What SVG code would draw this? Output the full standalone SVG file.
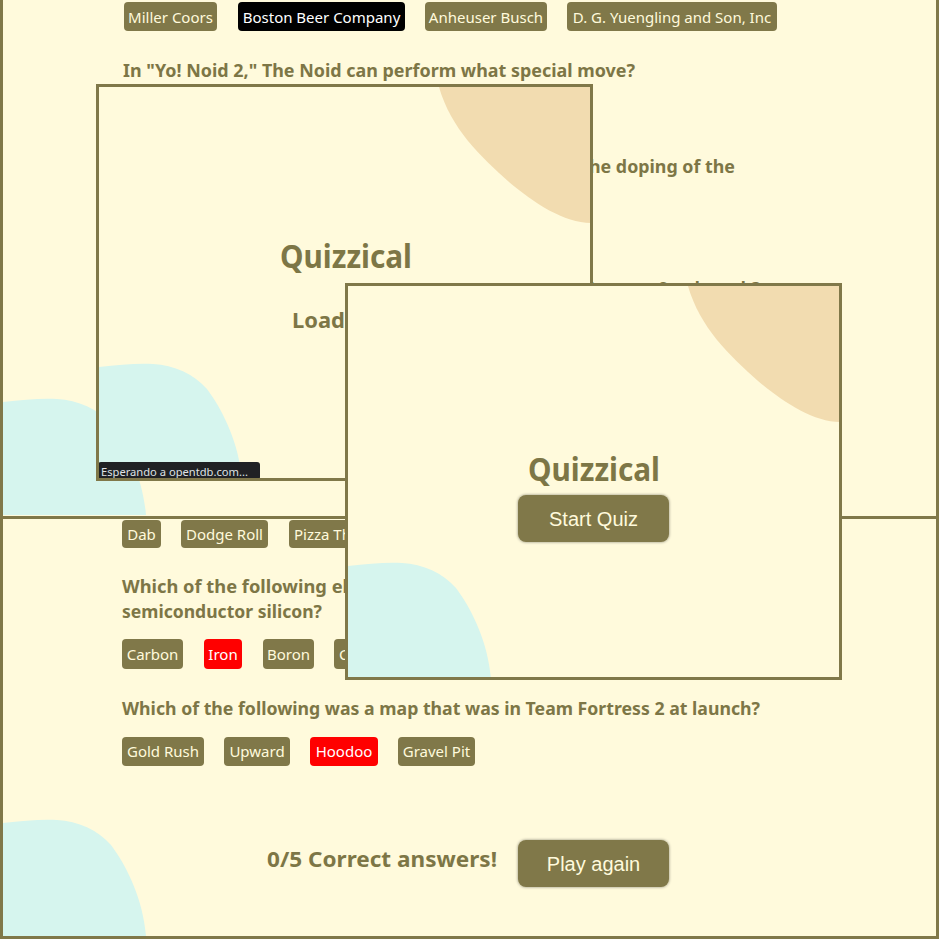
<svg xmlns="http://www.w3.org/2000/svg" width="939" height="939" viewBox="0 0 939 939">
<defs>
<style>
.bg{fill:#fffadc}
.frame{fill:#fffadc;stroke:#807849;stroke-width:3}
.ln{stroke:#807849;stroke-width:3;fill:none}
.btn{fill:#807849}
.btnk{fill:#000}
.btnr{fill:#ff0000}
.bt{font-family:"Noto Sans","Open Sans",sans-serif;font-size:15px;fill:#fffadc;text-anchor:middle}
.btw{font-family:"Noto Sans","Open Sans",sans-serif;font-size:15px;fill:#ffffff;text-anchor:middle}
.q{font-family:"Noto Sans","Open Sans",sans-serif;font-size:17px;font-weight:bold;fill:#7d7646}
.title{font-family:"Noto Sans","Open Sans",sans-serif;font-size:32px;font-weight:bold;fill:#7d7646;text-anchor:middle}
.sub{font-family:"Noto Sans","Open Sans",sans-serif;font-size:22px;font-weight:bold;fill:#7d7646}
.big{font-family:"Liberation Sans",Arial,sans-serif;font-size:20px;fill:#fffadc;text-anchor:middle}
.tan{fill:#f2dcb0}
.cyan{fill:#d6f5ee}
</style>
<path id="blobC" d="M0,3 C20,1 38,-1 54,0 C75,1 95,10 108,25 C125,48 140,80 143,116 L0,116 Z"/>
<path id="blobT" d="M0,0 C12,42 42,70 70,95 C95,116 125,136 152,136 L152,0 Z"/>
<filter id="sh" x="-20%" y="-30%" width="140%" height="160%">
<feDropShadow dx="0" dy="0" stdDeviation="1.5" flood-color="#000" flood-opacity="0.45"/>
</filter>
</defs>

<g id="background">
<rect x="0" y="0" width="939" height="939" class="bg"/>
<use href="#blobC" x="3" y="399" class="cyan"/>
<use href="#blobC" x="3" y="820" class="cyan"/>
<line x1="1.5" y1="0" x2="1.5" y2="939" class="ln"/>
<line x1="937.5" y1="0" x2="937.5" y2="939" class="ln"/>
<line x1="0" y1="517.5" x2="939" y2="517.5" class="ln"/>
<line x1="0" y1="937.5" x2="939" y2="937.5" class="ln"/>
</g>

<g id="top-panel">
<g id="answers-beer">
<rect x="124" y="2" width="93" height="29" rx="4" class="btn"/>
<text x="170.5" y="22.5" class="bt">Miller Coors</text>
<rect x="238" y="2" width="167" height="29" rx="4" class="btnk"/>
<text x="321.5" y="22.5" class="btw">Boston Beer Company</text>
<rect x="425" y="2" width="122" height="29" rx="4" class="btn"/>
<text x="486" y="22.5" class="bt">Anheuser Busch</text>
<rect x="567" y="2" width="210" height="29" rx="4" class="btn"/>
<text x="672" y="22.5" class="bt">D. G. Yuengling and Son, Inc</text>
</g>
<text x="123" y="77" class="q" textLength="512" lengthAdjust="spacingAndGlyphs">In "Yo! Noid 2," The Noid can perform what special move?</text>
<text x="589" y="173" class="q" textLength="146" lengthAdjust="spacingAndGlyphs">he doping of the</text>
<text x="760" y="294.5" class="q" text-anchor="end">Fortress 2 at launch?</text>
</g>

<g id="bottom-panel">
<g id="answers-noid">
<rect x="122" y="520" width="39" height="28" rx="4" class="btn"/>
<text x="141.5" y="540" class="bt">Dab</text>
<rect x="181" y="520" width="87" height="28" rx="4" class="btn"/>
<text x="224.5" y="540" class="bt">Dodge Roll</text>
<rect x="289" y="520" width="80" height="28" rx="4" class="btn"/>
<text x="294" y="540" class="bt" style="text-anchor:start">Pizza Th</text>
</g>
<text x="122" y="593" class="q" textLength="226" lengthAdjust="spacingAndGlyphs">Which of the following el</text>
<text x="122" y="618" class="q" textLength="200" lengthAdjust="spacingAndGlyphs">semiconductor silicon?</text>
<g id="answers-silicon">
<rect x="122" y="639" width="61" height="30" rx="4" class="btn"/>
<text x="152.5" y="660" class="bt">Carbon</text>
<rect x="204" y="639" width="38" height="30" rx="4" class="btnr"/>
<text x="223" y="660" class="btw">Iron</text>
<rect x="263" y="639" width="51" height="30" rx="4" class="btn"/>
<text x="288.5" y="660" class="bt">Boron</text>
<rect x="334" y="639" width="40" height="30" rx="4" class="btn"/>
<text x="339" y="660" class="bt" style="text-anchor:start">C</text>
</g>
<text x="122" y="715" class="q" textLength="638" lengthAdjust="spacingAndGlyphs">Which of the following was a map that was in Team Fortress 2 at launch?</text>
<g id="answers-tf2">
<rect x="122" y="737" width="82" height="29" rx="4" class="btn"/>
<text x="163" y="757" class="bt">Gold Rush</text>
<rect x="224" y="737" width="66" height="29" rx="4" class="btn"/>
<text x="257" y="757" class="bt">Upward</text>
<rect x="310" y="737" width="68" height="29" rx="4" class="btnr"/>
<text x="344" y="757" class="btw">Hoodoo</text>
<rect x="398" y="737" width="77" height="29" rx="4" class="btn"/>
<text x="436.5" y="757" class="bt">Gravel Pit</text>
</g>
<text x="267" y="867" class="sub" textLength="230" lengthAdjust="spacingAndGlyphs">0/5 Correct answers!</text>
<g id="play-again">
<rect x="518" y="840" width="151" height="47" rx="8" class="btn" filter="url(#sh)"/>
<text x="593.5" y="871" class="big">Play again</text>
</g>
</g>

<g id="loading-window">
<rect x="97.5" y="85.5" width="494" height="394" class="frame"/>
<use href="#blobT" x="439" y="87" class="tan"/>
<use href="#blobC" x="99" y="364" class="cyan"/>
<text x="346" y="268" class="title" textLength="132" lengthAdjust="spacingAndGlyphs">Quizzical</text>
<text x="292" y="328" class="sub" textLength="53" lengthAdjust="spacingAndGlyphs">Load</text>
<rect x="98" y="462" width="162" height="18" rx="3" fill="#202124"/>
<rect x="98" y="470" width="10" height="10" fill="#202124"/>
<text x="101" y="476" font-family="Noto Sans, sans-serif" font-size="11.5" fill="#dfe1e5" textLength="147" lengthAdjust="spacingAndGlyphs">Esperando a opentdb.com...</text>
<rect x="97.5" y="85.5" width="494" height="394" class="ln"/>
</g>

<g id="start-window">
<rect x="346.5" y="284.5" width="494" height="394" class="frame"/>
<use href="#blobT" x="688" y="286" class="tan"/>
<use href="#blobC" x="348" y="563" class="cyan"/>
<text x="594" y="481" class="title" textLength="132" lengthAdjust="spacingAndGlyphs">Quizzical</text>
<rect x="518" y="495" width="151" height="47" rx="8" class="btn" filter="url(#sh)"/>
<text x="593.5" y="526" class="big">Start Quiz</text>
<rect x="346.5" y="284.5" width="494" height="394" class="ln"/>
</g>
</svg>
